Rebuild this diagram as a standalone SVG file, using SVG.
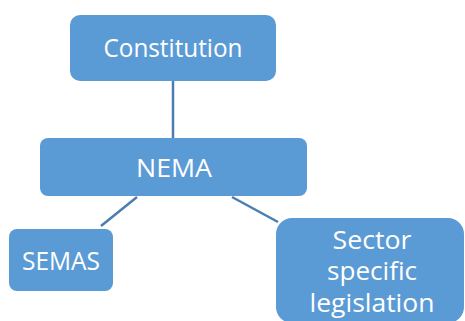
<svg xmlns="http://www.w3.org/2000/svg" width="465" height="321" viewBox="0 0 465 321">
<style>
.box{fill:#5B9BD5;}
.lbl{font-family:"Open Sans","Noto Sans",sans-serif;font-size:25px;fill:#ffffff;text-anchor:middle;}
.conn line{stroke:#4A7EB0;stroke-width:2.5;}
</style>
<rect width="465" height="321" fill="#ffffff"/>
<g class="conn">
<line x1="173" y1="81" x2="173" y2="138"/>
<line x1="137" y1="197" x2="101" y2="226"/>
<line x1="232" y1="197" x2="278" y2="222"/>
</g>
<g id="constitution">
<rect class="box" x="70" y="15" width="206" height="66" rx="10"/>
<text class="lbl" x="173" y="57" textLength="139" lengthAdjust="spacingAndGlyphs">Constitution</text>
</g>
<g id="nema">
<rect class="box" x="40" y="138" width="267" height="58" rx="8"/>
<text class="lbl" x="174" y="177" textLength="76" lengthAdjust="spacingAndGlyphs">NEMA</text>
</g>
<g id="semas">
<rect class="box" x="9" y="229" width="104" height="62" rx="8"/>
<text class="lbl" x="61" y="270" font-size="24" textLength="78" lengthAdjust="spacingAndGlyphs">SEMAS</text>
</g>
<g id="sector">
<rect class="box" x="276" y="218" width="188" height="105" rx="16"/>
<text class="lbl" x="372" y="249" font-size="26" textLength="79" lengthAdjust="spacingAndGlyphs">Sector</text>
<text class="lbl" x="372" y="280" font-size="26" textLength="90" lengthAdjust="spacingAndGlyphs">specific</text>
<text class="lbl" x="372" y="312" font-size="26" textLength="125" lengthAdjust="spacingAndGlyphs">legislation</text>
</g>
</svg>
